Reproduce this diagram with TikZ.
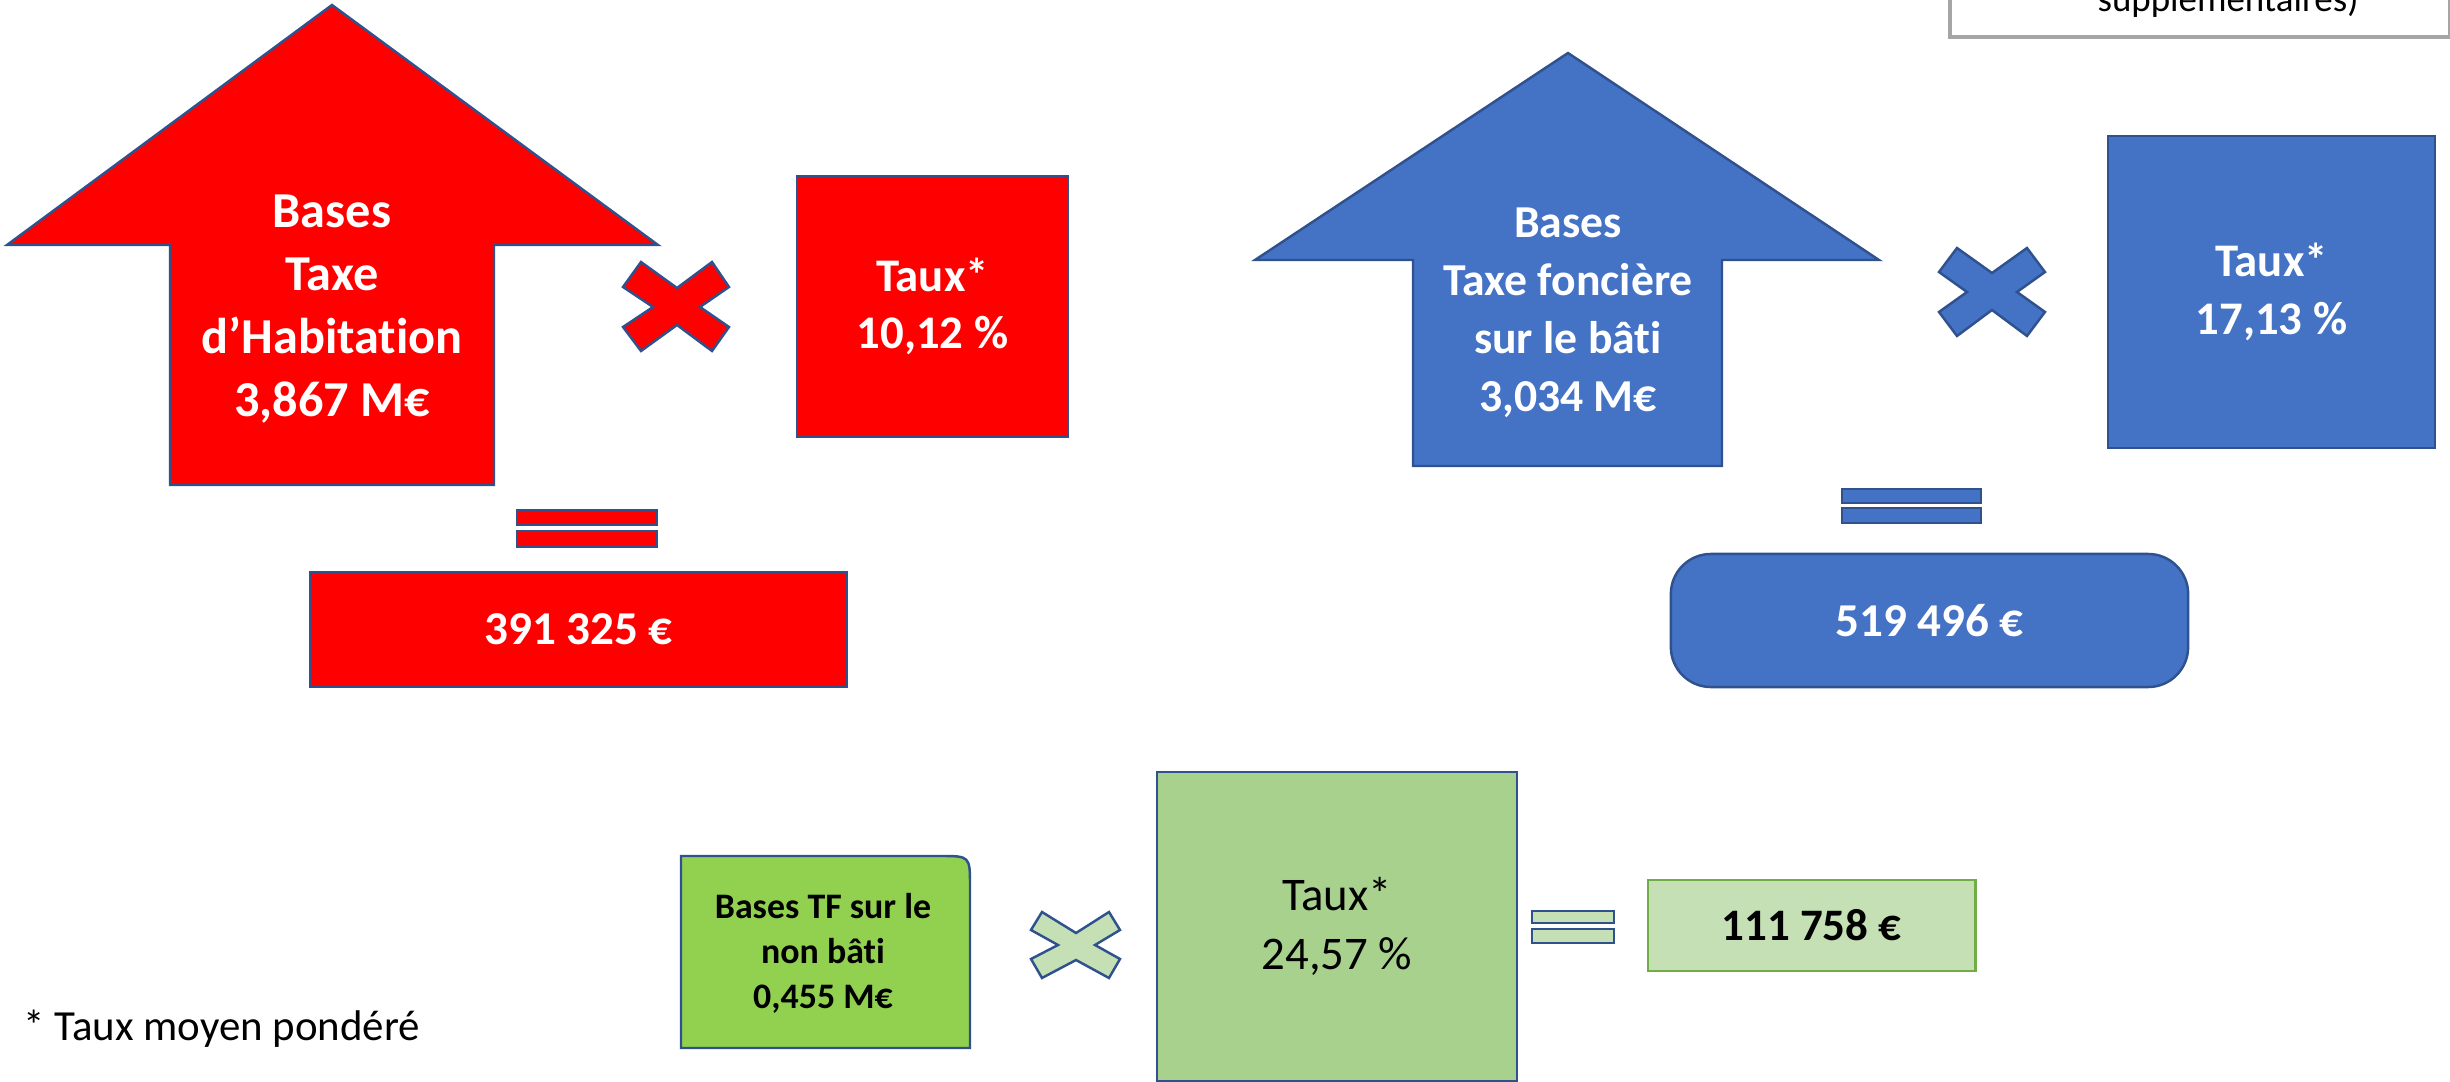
\documentclass[tikz,border=0pt]{standalone}
\usepackage{fontspec}
\setmainfont[Ligatures=NoCommon]{Carlito}
\definecolor{cred}{HTML}{FF0000}
\definecolor{cblue}{HTML}{4472C4}
\definecolor{cedge}{HTML}{2F528F}
\definecolor{gbase}{HTML}{92D050}
\definecolor{gtaux}{HTML}{A9D18E}
\definecolor{glight}{HTML}{C5E0B4}
\definecolor{gedge}{HTML}{70AD47}
\definecolor{cgray}{HTML}{A6A6A6}
\tikzset{
  shp/.style={draw=cedge, line width=0.7pt, line join=miter},
  boxn/.style={shp, rectangle, inner sep=0pt, align=center},
  bar/.style={shp, rectangle, inner sep=0pt},
  wtxt/.style={text=white, font=\bfseries, align=center, inner sep=0pt},
}
\newcommand{\fs}[2]{\fontsize{#1}{#2}\selectfont}
\begin{document}
\begin{tikzpicture}[x=0.01cm, y=-0.01cm]
\useasboundingbox (0,0) rectangle (2450,1082);
\clip (0,0) rectangle (2450,1082);

% ---------- top-right partial box
\node[draw=cgray, line width=1.1pt, rectangle, minimum width=5cm, minimum height=1.5cm, anchor=south west, inner sep=0pt] (note) at (1948,39) {};
\node[anchor=base, inner sep=0pt, font=\fs{10.5pt}{12pt}] (notetxt) at (2228,12) {supplémentaires)};

% ---------- red group
\fill[cred, shp] (332,5) -- (658,245) -- (494,245) -- (494,485) -- (170,485) -- (170,245) -- (7,245) -- cycle;
\node[wtxt, font=\bfseries\fs{14.3pt}{17.9pt}] (thbase) at (332,309) {Bases\\Taxe\\d’Habitation\\3,867 M€};
\fill[cred, shp] (641,262) -- (677,288) -- (712,262) -- (729,287) -- (700,307) -- (729,327) -- (712,351) -- (677,325) -- (641,351) -- (623,327) -- (653,307) -- (623,287) -- cycle;
\node[boxn, fill=cred, minimum width=2.71cm, minimum height=2.61cm] (thtaux) at (932.5,306.5) {};
\node[wtxt, font=\bfseries\fs{13.3pt}{16.3pt}] (thtauxt) at (thtaux) {Taux*\\10,12 \%};
\node[bar, fill=cred, minimum width=1.40cm, minimum height=0.15cm] (theq1) at (587,517.5) {};
\node[bar, fill=cred, minimum width=1.40cm, minimum height=0.16cm] (theq2) at (587,539) {};
\node[boxn, fill=cred, minimum width=5.37cm, minimum height=1.15cm, text=white, font=\bfseries\fs{13.4pt}{16pt}] (thres) at (578.5,629.5) {391 325 €};

% ---------- blue group
\fill[cblue, shp] (1568,53) -- (1879,260) -- (1722,260) -- (1722,466) -- (1413,466) -- (1413,260) -- (1255,260) -- cycle;
\node[wtxt, font=\bfseries\fs{13pt}{16.5pt}] (tfbase) at (1568,313) {Bases\\Taxe foncière\\sur le bâti\\3,034 M€};
\fill[cblue, shp] (1957,248) -- (1992,273) -- (2027,248) -- (2045,272) -- (2017,292) -- (2045,312) -- (2027,336) -- (1992,310) -- (1957,336) -- (1939,312) -- (1967,292) -- (1939,272) -- cycle;
\node[boxn, fill=cblue, minimum width=3.27cm, minimum height=3.12cm] (tftaux) at (2271.5,292) {};
\node[wtxt, font=\bfseries\fs{13.3pt}{16.5pt}] (tftauxt) at (tftaux) {Taux*\\17,13 \%};
\node[bar, fill=cblue, minimum width=1.39cm, minimum height=0.14cm] (tfeq1) at (1911.5,496) {};
\node[bar, fill=cblue, minimum width=1.39cm, minimum height=0.15cm] (tfeq2) at (1911.5,515.5) {};
\node[boxn, fill=cblue, rounded corners=0.4cm, minimum width=5.17cm, minimum height=1.33cm, text=white, font=\bfseries\fs{13.4pt}{16pt}] (tfres) at (1929.5,620.5) {519 496 €};

% ---------- green group
\filldraw[fill=gbase, shp] (681,1048) -- (681,856) -- (940,856) .. controls (970,856) .. (970,886) -- (970,1048) -- cycle;
\node[font=\bfseries\fs{10.2pt}{12.8pt}, align=center, inner sep=0pt] (tnbbase) at (823,953) {Bases TF sur le\\non bâti\\0,455 M€};
\filldraw[fill=glight, shp] (1042,912) -- (1076,933) -- (1109,912) -- (1120,930) -- (1095,945) -- (1120,959) -- (1109,978) -- (1076,960) -- (1042,978) -- (1031,959) -- (1058,945) -- (1031,930) -- cycle;
\node[boxn, fill=gtaux, minimum width=3.60cm, minimum height=3.09cm] (tnbtaux) at (1337,926.5) {};
\node[font=\fs{13.3pt}{16.8pt}, align=center, inner sep=0pt] (tnbtauxt) at (tnbtaux) {Taux*\\24,57 \%};
\node[bar, fill=glight, minimum width=0.82cm, minimum height=0.12cm] (tnbeq1) at (1573,917) {};
\node[bar, fill=glight, minimum width=0.82cm, minimum height=0.14cm] (tnbeq2) at (1573,936) {};
\node[rectangle, draw=gedge, line width=0.8pt, fill=glight, inner sep=0pt, minimum width=3.27cm, minimum height=0.91cm, font=\bfseries\fs{12.8pt}{15pt}] (tnbres) at (1811.5,925.5) {111 758 €};

% ---------- footnote
\node[anchor=base west, inner sep=0pt, font=\fs{12.2pt}{15pt}] (foot) at (23,1040) {* Taux moyen pondéré};
\end{tikzpicture}
\end{document}
